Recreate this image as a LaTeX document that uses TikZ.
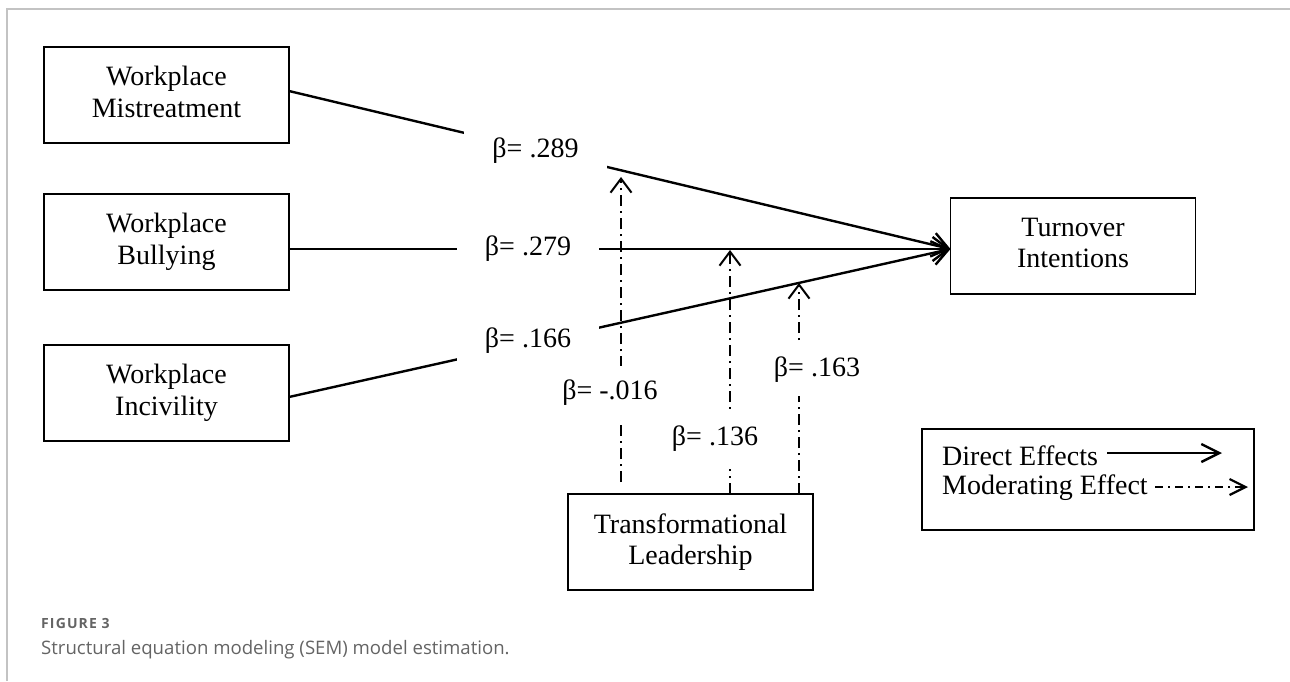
\documentclass[tikz,border=0pt]{standalone}
\usepackage{fontspec}
\setmainfont{Liberation Serif}
\newfontfamily\capfont{Open Sans}
\newfontfamily\figfont[LetterSpace=8]{Open Sans}
\usetikzlibrary{arrows.meta}
\definecolor{framegray}{RGB}{195,195,195}
\definecolor{capgray}{RGB}{100,100,100}
\begin{document}
\begin{tikzpicture}[x=1pt,y=-1pt,
  box/.style={draw, line width=1.4pt, minimum width=245pt, minimum height=96pt, align=center, inner sep=0pt, outer sep=0pt, font=\fontsize{28}{31.5}\selectfont, execute at end node=\vphantom{g}},
  lbl/.style={fill=white, inner sep=0pt, font=\fontsize{28}{31}\selectfont},
  legtext/.style={anchor=base west, inner sep=0pt, font=\fontsize{28}{31}\selectfont},
  direct/.style={line width=2.4pt, -{Straight Barb[length=16pt,width=24pt]}},
  moder/.style={line width=2pt, dash pattern=on 11pt off 5pt on 2pt off 5pt, -{Straight Barb[length=14pt,width=21pt]}},
  legdirect/.style={line width=2.4pt, -{Straight Barb[length=18pt,width=18pt]}},
  legmoder/.style={line width=2.2pt, dash pattern=on 8pt off 5pt on 2pt off 5pt, -{Straight Barb[length=16pt,width=16pt]}},
]
\useasboundingbox (0,0) rectangle (1290,681);
% frame
\draw[framegray, line width=2pt] (7,681) -- (7,9) -- (1290,9);

% boxes
\node[box] (mis) at (166.5,95) {Workplace\\Mistreatment};
\node[box] (bul) at (166.5,242) {Workplace\\Bullying};
\node[box] (inc) at (166.5,393) {Workplace\\Incivility};
\node[box] (tur) at (1073,246) {Turnover\\Intentions};
\node[box] (tl) at (690.5,542) {Transformational\\Leadership};

% direct effects
\draw[direct] ([yshift=4pt]mis.east) -- ([yshift=-3pt]tur.west);
\draw[direct] ([yshift=-7pt]bul.east) -- ([yshift=-3pt]tur.west);
\draw[direct] ([yshift=-4pt]inc.east) -- ([yshift=-3pt]tur.west);

\node[lbl, minimum width=143pt, minimum height=44pt] (b289) at (535.5,151) {β= .289};
\node[lbl, minimum width=142pt, minimum height=44pt] (b279) at (528,248.5) {β= .279};
\node[lbl, minimum width=142pt, minimum height=44pt] (b166) at (528,340.5) {β= .166};

% moderating effects
\coordinate (m1t) at (621,177);
\coordinate (m2t) at (730,250);
\coordinate (m3t) at (799,283);
\draw[moder] ([shift={(-69.5pt,12pt)}]tl.north) -- (m1t);
\draw[moder] ([xshift=39.5pt]tl.north) -- (m2t);
\draw[moder] ([xshift=108.5pt]tl.north) -- (m3t);

\node[lbl, minimum height=54pt] (b016) at (610,393) {β= -.016};
\node[lbl, minimum height=60pt] (b136) at (715,438.5) {β= .136};
\node[lbl, minimum height=52pt] (b163) at (817,370) {β= .163};

% legend
\node[draw, line width=1.4pt, minimum width=332pt, minimum height=101pt, inner sep=0pt, outer sep=0pt] (lg) at (1088,479.5) {};
\node[legtext] (de) at (942,465) {Direct Effects};
\node[legtext] (me) at (942,494) {Moderating Effect};
\coordinate (deS) at (1107,453);
\coordinate (deE) at (1222,453);
\coordinate (meS) at (1155,487);
\coordinate (meE) at (1248,487);
\draw[legdirect] (deS) -- (deE);
\draw[legmoder] (meS) -- (meE);

% caption
\node[anchor=base west, inner sep=0pt, font=\figfont\bfseries\fontsize{14}{15}\selectfont, text=capgray] (fig) at (41,628) {FIGURE 3};
\node[anchor=base west, inner sep=0pt, font=\capfont\fontsize{18.6}{20}\selectfont, text=capgray] (cap) at (41,654) {Structural equation modeling (SEM) model estimation.};
\end{tikzpicture}
\end{document}
